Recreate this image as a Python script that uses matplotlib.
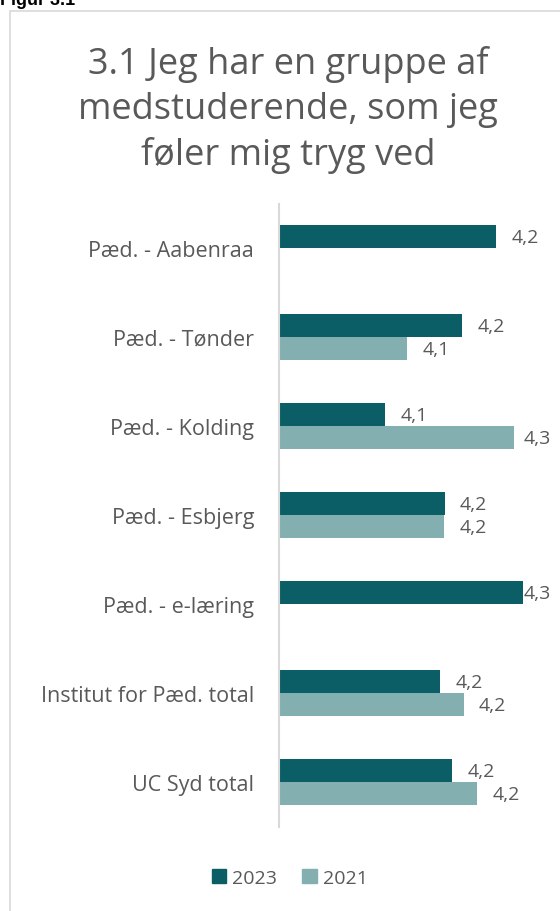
import numpy as np
import matplotlib.pyplot as plt
from matplotlib.patches import Rectangle, Patch

# ============================================================================
# DATA
# ============================================================================

categories = ["Pæd. - Aabenraa", "Pæd. - Tønder", "Pæd. - Kolding",
              "Pæd. - Esbjerg", "Pæd. - e-læring",
              "Institut for Pæd. total", "UC Syd total"]
values_2023 = [4.241, 4.203, 4.118, 4.184, 4.271, 4.179, 4.192]
values_2021 = [np.nan, 4.142, 4.261, 4.183, np.nan, 4.205, 4.220]
series_names = ["2023", "2021"]

title = "3.1 Jeg har en gruppe af\nmedstuderende, som jeg\nføler mig tryg ved"

# ============================================================================
# STYLE
# ============================================================================

plt.rcParams['font.family'] = ['Open Sans', 'DejaVu Sans']
DARK = '#0B5E65'
LIGHT = '#84AFB1'
TEXT = '#595959'
GRID = '#D9D9D9'

W, H = 560, 912
fig = plt.figure(figsize=(W / 100, H / 100), dpi=100)

# outer frame (runs off the right and bottom edge)
fig.patches.append(Rectangle((9.5 / W, -0.1), 1.2, 1.1 - 11.5 / H,
                             transform=fig.transFigure, fill=False,
                             edgecolor=GRID, linewidth=1.2))

fig.text(0.0, 1 - 5 / H, "Figur 3.1", family='Liberation Sans',
         fontweight='bold', fontsize=13, color='black', va='baseline')

fig.text(288 / W, 1 - 110 / H, title, ha='center', va='center',
         fontsize=26, color=TEXT, linespacing=1.33)

# ============================================================================
# BARS
# ============================================================================

x0, x1 = 4.0, 4.30
ax = fig.add_axes([279 / W, (H - 827.5) / H, (x1 - x0) * 900 / W, 623 / H])

y = np.arange(len(categories))
h = 23 / 89
ax.barh(y - h / 2, np.array(values_2023) - x0, left=x0, height=h, color=DARK)
ax.barh(y + h / 2, np.array(values_2021) - x0, left=x0, height=h, color=LIGHT)

ax.set_xlim(x0, x1)
ax.set_ylim(len(categories) - 0.5, -0.5)
ax.set_yticks(y)
ax.set_yticklabels(categories, fontsize=15.5, color=TEXT)
ax.tick_params(axis='y', length=0, pad=18)
ax.set_xticks([])
for s in ['top', 'right', 'bottom']:
    ax.spines[s].set_visible(False)
ax.spines['left'].set_color(GRID)
ax.spines['left'].set_linewidth(1.5)

# value labels, "outside end", pushed back inside the chart area near the edge
max_start = x0 + 245 / 900
for vals, off in [(values_2023, -h / 2), (values_2021, h / 2)]:
    for i, v in enumerate(vals):
        if np.isnan(v):
            continue
        xl = min(v + 15.5 / 900, max_start)
        ax.text(xl, i + off + 0.01, f"{v:.1f}".replace('.', ','),
                va='center', ha='left', fontsize=14, color=TEXT,
                clip_on=False)

# ============================================================================
# LEGEND
# ============================================================================

handles = [Patch(color=DARK, label=series_names[0]),
           Patch(color=LIGHT, label=series_names[1])]
leg = fig.legend(handles=handles, ncol=2, loc='center',
                 bbox_to_anchor=(289.5 / W, 1 - 879 / H), frameon=False,
                 fontsize=14, handlelength=0.75, handleheight=0.75,
                 handletextpad=0.3, columnspacing=1.3)
for t in leg.get_texts():
    t.set_color(TEXT)

fig.savefig('out.png', dpi=100)
